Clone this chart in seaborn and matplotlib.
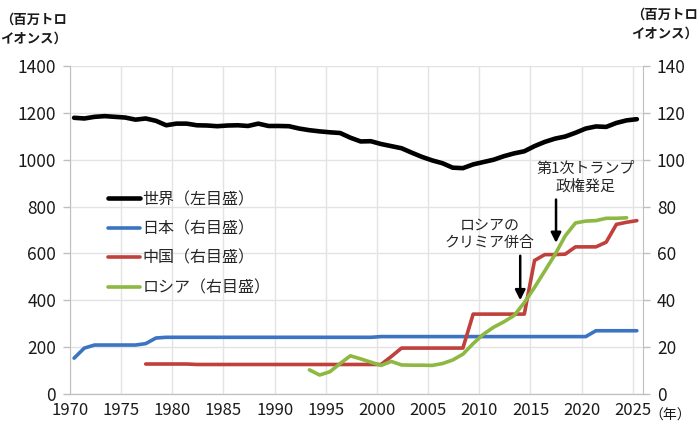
import numpy as np
import pandas as pd
import matplotlib
matplotlib.use("Agg")
import matplotlib.pyplot as plt
import seaborn as sns

# data (million troy ounces)
world_years = list(range(1970, 2026))
world = [1179, 1176, 1183, 1186, 1183, 1180, 1171, 1176, 1166, 1147,
         1154, 1154, 1147, 1146, 1143, 1146, 1147, 1144, 1154, 1144,
         1144, 1143, 1133, 1126, 1121, 1117, 1114, 1094, 1078, 1079,
         1067, 1058, 1049, 1030, 1012, 997, 985, 966, 964, 980,
         990, 1000, 1015, 1027, 1036, 1058, 1076, 1090, 1099, 1115,
         1133, 1142, 1140, 1157, 1168, 1173]

japan_years = list(range(1970, 2026))
japan = [15.3, 19.6, 20.9, 20.9, 20.9, 20.9, 20.9, 21.5, 23.9, 24.2] + \
        [24.2] * 20 + [24.5] * 21 + [27.0] * 5

china_years = list(range(1977, 2026))
china = [12.8] * 5 + [12.6] * 19 + [16.0] + [19.6] * 7 + [34.1] * 6 + \
        [57.0, 59.5, 59.5, 59.7, 62.8, 62.8, 62.8, 64.8, 72.4, 73.3, 74.0]

russia_years = list(range(1993, 2025))
russia = [10.3, 8.1, 9.5, 13.0, 16.3, 15.0, 13.6, 12.2, 13.9, 12.4,
          12.3, 12.3, 12.2, 13.0, 14.5, 17.0, 21.5, 25.5, 28.5, 30.8,
          33.5, 39.0, 45.5, 52.5, 59.5, 67.5, 73.0, 73.8, 74.0, 75.0,
          75.0, 75.2]

labels = ["世界（左目盛）", "日本（右目盛）", "中国（右目盛）", "ロシア（右目盛）"]
colors = ["#000000", "#3B74C2", "#C0403C", "#8DB842"]

# annual values sit a little right of the year gridline, like the source
x_off = 0.4

sns.set_style("white")
plt.rcParams["font.family"] = ["Noto Sans CJK JP", "DejaVu Sans"]

fig = plt.figure(figsize=(7, 4.29), dpi=100)
ax = fig.add_axes([70 / 700, 1 - 394 / 429, (643 - 70) / 700, (394 - 66) / 429])
ax2 = ax.twinx()

sns.lineplot(x=np.array(world_years) + x_off, y=world, ax=ax,
             color=colors[0], lw=3.3, label=labels[0], legend=False)
sns.lineplot(x=np.array(japan_years) + x_off, y=japan, ax=ax2,
             color=colors[1], lw=2.6, label=labels[1], legend=False)
sns.lineplot(x=np.array(china_years) + x_off, y=china, ax=ax2,
             color=colors[2], lw=2.6, label=labels[2], legend=False)
sns.lineplot(x=np.array(russia_years) + x_off, y=russia, ax=ax2,
             color=colors[3], lw=2.6, label=labels[3], legend=False)

ax.set_xlim(1970, 2026)
ax.set_ylim(0, 1400)
ax2.set_ylim(0, 140)
ax.set_xticks(range(1970, 2030, 5))
ax.set_yticks(range(0, 1600, 200))
ax2.set_yticks(range(0, 160, 20))

ax.grid(True, color="#E3E3E3", lw=1)
ax2.grid(False)
ax.set_axisbelow(True)

for a in (ax, ax2):
    for s in a.spines.values():
        s.set_color("#BFBFBF")
    a.spines["top"].set_visible(False)
    a.set_xlabel("")
    a.set_ylabel("")
ax.spines["right"].set_visible(False)
ax2.spines["left"].set_visible(False)

ax.tick_params(axis="y", labelsize=12.5, colors="#BFBFBF", labelcolor="#1a1a1a",
               length=5, width=1, pad=5, left=True)
ax.tick_params(axis="x", labelsize=12, colors="#BFBFBF", labelcolor="#1a1a1a",
               length=0, pad=6)
ax2.tick_params(axis="y", labelsize=12.5, colors="#BFBFBF", labelcolor="#1a1a1a",
                length=5, width=1, pad=5, right=True)

# legend
h1, l1 = ax.get_legend_handles_labels()
h2, l2 = ax2.get_legend_handles_labels()
ax2.legend(h1 + h2, l1 + l2, loc="upper left",
           bbox_to_anchor=(108 / 700, 1 - 191 / 429), bbox_transform=fig.transFigure,
           frameon=False, fontsize=11.5, handlelength=2.0, handletextpad=0.15,
           labelspacing=0.78, borderpad=0, borderaxespad=0)

# annotations
ax2.annotate("", xy=(2014.0, 40), xytext=(2014.0, 59),
             arrowprops=dict(arrowstyle="-|>", color="black", lw=1.8,
                             mutation_scale=15, shrinkA=0, shrinkB=0))
ax2.text(2011.0, 68.1, "ロシアの\nクリミア併合", ha="center", va="center",
         fontsize=10.8, linespacing=1.25)
ax2.annotate("", xy=(2017.5, 64.5), xytext=(2017.5, 83),
             arrowprops=dict(arrowstyle="-|>", color="black", lw=1.8,
                             mutation_scale=15, shrinkA=0, shrinkB=0))
ax2.text(2020.4, 92.3, "第1次トランプ\n政権発足", ha="center", va="center",
         fontsize=10.8, linespacing=1.3)

# unit labels
fig.text(0.0, 1 - 29 / 429, "（百万トロ\nイオンス）", ha="left", va="center",
         fontsize=9.6, fontweight="bold", linespacing=1.5, color="#1a1a1a")
fig.text(698 / 700, 1 - 24 / 429, "（百万トロ\nイオンス）", ha="right", va="center",
         fontsize=9.6, fontweight="bold", linespacing=1.5, color="#1a1a1a",
         multialignment="left")
fig.text(649 / 700, 1 - 416 / 429, "（年）", ha="left", va="center",
         fontsize=10, color="#1a1a1a")

fig.savefig("out.png", dpi=100)
